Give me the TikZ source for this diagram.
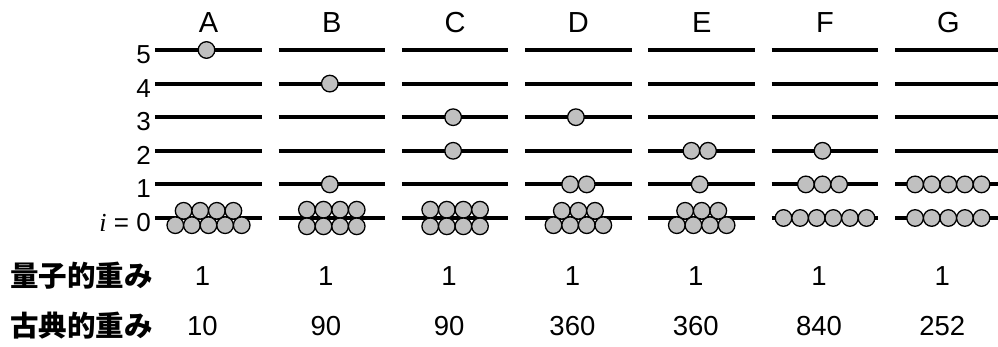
\documentclass[tikz,border=0pt]{standalone}
\usepackage{fontspec}
\setmainfont{Liberation Sans}
\newfontfamily\jpfont{Noto Sans CJK JP}
\newfontfamily\serifit{Liberation Serif}
\usetikzlibrary{positioning}
\definecolor{ballgray}{RGB}{192,192,192}

\begin{document}
\begin{tikzpicture}[x=1pt, y=-1pt,
ball/.style={circle, draw=black, fill=ballgray, line width=1.3pt, minimum size=16.6pt, inner sep=0pt, outer sep=0pt},
levelline/.style={line width=4pt, dash pattern=on 106.6pt off 16.7pt},
colname/.style={inner sep=0pt, font=\fontsize{29}{29}\selectfont},
levelname/.style={inner sep=0pt, anchor=east, font=\fontsize{26}{26}\selectfont},
weight/.style={inner sep=0pt, font=\fontsize{27.5}{27.5}\selectfont},
rowname/.style={inner sep=0pt, anchor=west, font=\jpfont\bfseries\fontsize{28.5}{28.5}\selectfont}]
\useasboundingbox (0,0) rectangle (998,347);

% level labels
\node[levelname] (lvl5) at (151,54.5) {5};
\node[levelname] (lvl4) at (151,88.1) {4};
\node[levelname] (lvl3) at (151,121.7) {3};
\node[levelname] (lvl2) at (151,155.3) {2};
\node[levelname] (lvl1) at (151,188.9) {1};
\node[levelname] (lvl0) at (151,222.5) {{\serifit\itshape i} = 0};

% level lines
\coordinate (start5) at (155.2,50);
\coordinate (start4) at (155.2,83.6);
\coordinate (start3) at (155.2,117.2);
\coordinate (start2) at (155.2,150.8);
\coordinate (start1) at (155.2,184.4);
\coordinate (start0) at (155.2,218);
\draw[levelline] (start5) -- ++(846,0);
\draw[levelline] (start4) -- ++(846,0);
\draw[levelline] (start3) -- ++(846,0);
\draw[levelline] (start2) -- ++(846,0);
\draw[levelline] (start1) -- ++(846,0);
\draw[levelline] (start0) -- ++(846,0);

% column names
\node[colname] (colA) at (208.5,23) {A};
\node[colname] (colB) at (331.8,23) {B};
\node[colname] (colC) at (455.1,23) {C};
\node[colname] (colD) at (578.4,23) {D};
\node[colname] (colE) at (701.7,23) {E};
\node[colname] (colF) at (825.0,23) {F};
\node[colname] (colG) at (948.3,23) {G};

% A
\node[ball] (a5) at (206.5,50) {};
\node[ball] (a01) at (175.3,225.2) {};
\node[ball, right=0pt of a01] (a02) {};
\node[ball, right=0pt of a02] (a03) {};
\node[ball, right=0pt of a03] (a04) {};
\node[ball, right=0pt of a04] (a05) {};
\node[ball] (a06) at (183.6,210.8) {};
\node[ball, right=0pt of a06] (a07) {};
\node[ball, right=0pt of a07] (a08) {};
\node[ball, right=0pt of a08] (a09) {};

% B
\node[ball] (b4) at (329.8,83.6) {};
\node[ball] (b1) at (329.8,184.4) {};
\node[ball] (b01) at (306.9,209.7) {};
\node[ball, right=0pt of b01] (b02) {};
\node[ball, right=0pt of b02] (b03) {};
\node[ball, right=0pt of b03] (b04) {};
\node[ball] (b05) at (306.9,226.3) {};
\node[ball, right=0pt of b05] (b06) {};
\node[ball, right=0pt of b06] (b07) {};
\node[ball, right=0pt of b07] (b08) {};

% C
\node[ball] (c3) at (453.1,117.2) {};
\node[ball] (c2) at (453.1,150.8) {};
\node[ball] (c01) at (430.2,209.7) {};
\node[ball, right=0pt of c01] (c02) {};
\node[ball, right=0pt of c02] (c03) {};
\node[ball, right=0pt of c03] (c04) {};
\node[ball] (c05) at (430.2,226.3) {};
\node[ball, right=0pt of c05] (c06) {};
\node[ball, right=0pt of c06] (c07) {};
\node[ball, right=0pt of c07] (c08) {};

% D
\node[ball] (d3) at (575.9,117.2) {};
\node[ball] (d11) at (570.1,184.4) {};
\node[ball, right=0pt of d11] (d12) {};
\node[ball] (d01) at (561.8,210.8) {};
\node[ball, right=0pt of d01] (d02) {};
\node[ball, right=0pt of d02] (d03) {};
\node[ball] (d04) at (553.5,225.2) {};
\node[ball, right=0pt of d04] (d05) {};
\node[ball, right=0pt of d05] (d06) {};
\node[ball, right=0pt of d06] (d07) {};

% E
\node[ball] (e21) at (691.4,150.8) {};
\node[ball, right=0pt of e21] (e22) {};
\node[ball] (e1) at (699.7,184.4) {};
\node[ball] (e01) at (685.1,210.8) {};
\node[ball, right=0pt of e01] (e02) {};
\node[ball, right=0pt of e02] (e03) {};
\node[ball] (e04) at (676.8,225.2) {};
\node[ball, right=0pt of e04] (e05) {};
\node[ball, right=0pt of e05] (e06) {};
\node[ball, right=0pt of e06] (e07) {};

% F
\node[ball] (f2) at (822.5,150.8) {};
\node[ball] (f11) at (805.9,184.4) {};
\node[ball, right=0pt of f11] (f12) {};
\node[ball, right=0pt of f12] (f13) {};
\node[ball] (f01) at (783.5,218) {};
\node[ball, right=0pt of f01] (f02) {};
\node[ball, right=0pt of f02] (f03) {};
\node[ball, right=0pt of f03] (f04) {};
\node[ball, right=0pt of f04] (f05) {};
\node[ball, right=0pt of f05] (f06) {};

% G
\node[ball] (g11) at (915.1,184.4) {};
\node[ball, right=0pt of g11] (g12) {};
\node[ball, right=0pt of g12] (g13) {};
\node[ball, right=0pt of g13] (g14) {};
\node[ball, right=0pt of g14] (g15) {};
\node[ball] (g01) at (915.1,218) {};
\node[ball, right=0pt of g01] (g02) {};
\node[ball, right=0pt of g02] (g03) {};
\node[ball, right=0pt of g03] (g04) {};
\node[ball, right=0pt of g04] (g05) {};

% weights
\node[rowname] (quantum) at (10,276) {量子的重み};
\node[rowname] (classical) at (10,326) {古典的重み};
\node[weight] (qwA) at (202.5,276) {1};
\node[weight] (qwB) at (325.8,276) {1};
\node[weight] (qwC) at (449.1,276) {1};
\node[weight] (qwD) at (572.4,276) {1};
\node[weight] (qwE) at (695.7,276) {1};
\node[weight] (qwF) at (819.0,276) {1};
\node[weight] (qwG) at (942.3,276) {1};
\node[weight] (cwA) at (202.5,326) {10};
\node[weight] (cwB) at (325.8,326) {90};
\node[weight] (cwC) at (449.1,326) {90};
\node[weight] (cwD) at (572.4,326) {360};
\node[weight] (cwE) at (695.7,326) {360};
\node[weight] (cwF) at (819.0,326) {840};
\node[weight] (cwG) at (942.3,326) {252};
\end{tikzpicture}
\end{document}
